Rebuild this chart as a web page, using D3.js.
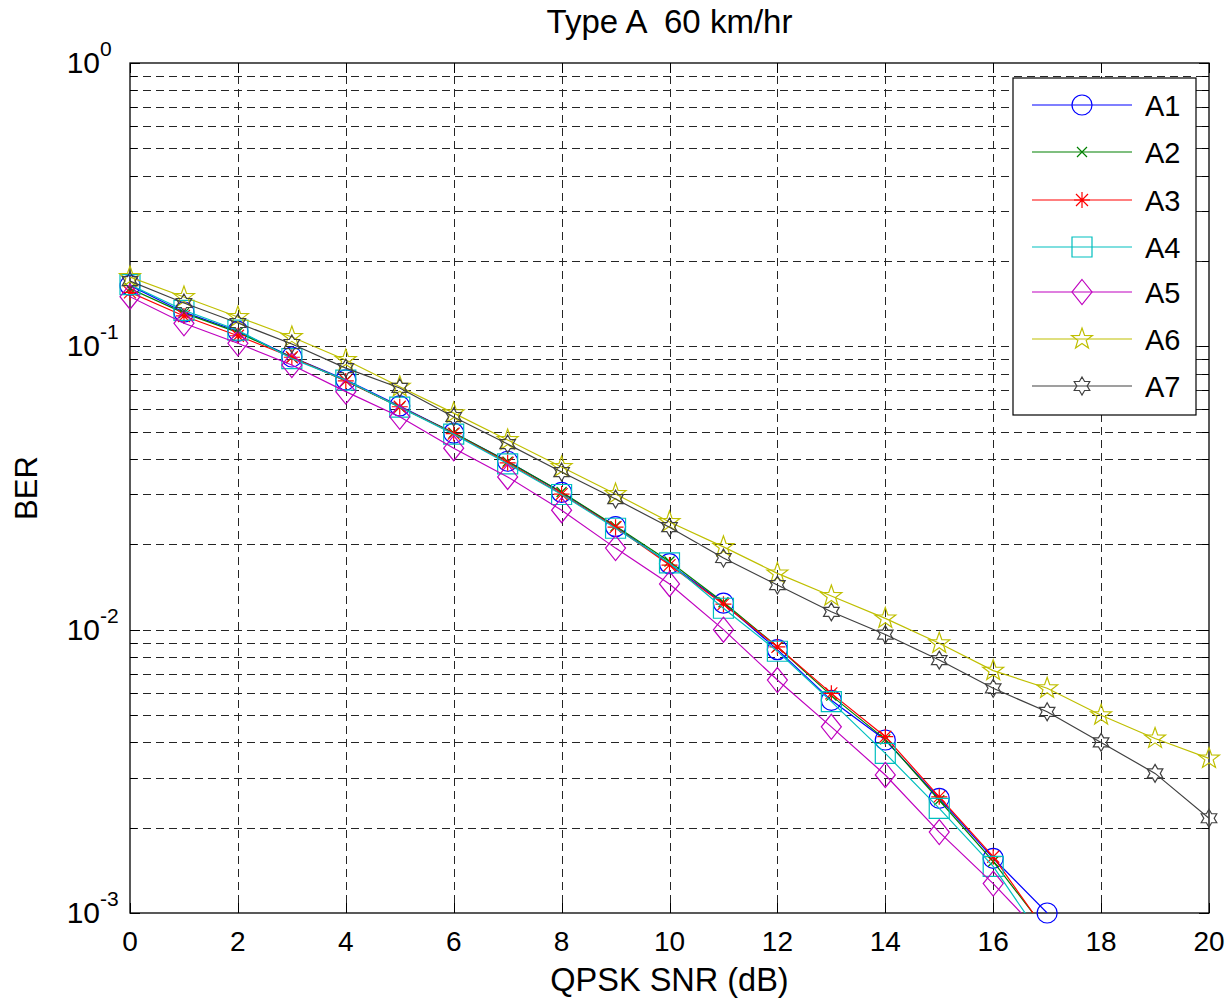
<!DOCTYPE html>
<html>
<head>
<meta charset="utf-8">
<script src="https://cdn.jsdelivr.net/npm/d3@7"></script>
<style>
  body { margin: 0; background: #fff; }
  svg text { font-family: "Liberation Sans", Arial, sans-serif; fill: #000; }
</style>
</head>
<body>
<div id="chart"></div>
<script>
// SNR points (dB)
const snrShort = [0, 1, 2, 3, 4, 5, 6, 7, 8, 9, 10, 11, 12, 13, 14, 15, 16, 17];
const snrLong = [0, 1, 2, 3, 4, 5, 6, 7, 8, 9, 10, 11, 12, 13, 14, 15, 16, 17, 18, 19, 20];

// BER values
const berA1 = [0.164, 0.132, 0.113, 0.0917, 0.0762, 0.0616, 0.0494, 0.0393, 0.0305, 0.0231, 0.0171, 0.0124, 0.0085, 0.00563, 0.00408, 0.00254, 0.00156, 0.00100];
const berA2 = [0.160, 0.131, 0.112, 0.0915, 0.0755, 0.0610, 0.0495, 0.0392, 0.0306, 0.0232, 0.0174, 0.0125, 0.0087, 0.00585, 0.00410, 0.00250, 0.00152, 0.00086];
const berA3 = [0.155, 0.128, 0.109, 0.0915, 0.0755, 0.0612, 0.0492, 0.0388, 0.0301, 0.0230, 0.0169, 0.0123, 0.0087, 0.00596, 0.00419, 0.00257, 0.00158, 0.00085];
const berA4 = [0.165, 0.134, 0.114, 0.0905, 0.0760, 0.0610, 0.0490, 0.0385, 0.0300, 0.0228, 0.0172, 0.0119, 0.00839, 0.00557, 0.00366, 0.00234, 0.00146, 0.00077];
const berA5 = [0.1497, 0.1206, 0.1025, 0.0859, 0.0692, 0.0564, 0.0437, 0.0346, 0.0264, 0.0194, 0.0145, 0.0100, 0.00664, 0.00454, 0.00307, 0.00193, 0.00127, 0.00080];
const berA6 = [0.1756, 0.1493, 0.1269, 0.1079, 0.0895, 0.0720, 0.0581, 0.0467, 0.0375, 0.0301, 0.0240, 0.0196, 0.0158, 0.01314, 0.01096, 0.00895, 0.00717, 0.00621, 0.00499, 0.00413, 0.00351];
const berA7 = [0.170, 0.1422, 0.1209, 0.1019, 0.0838, 0.0713, 0.0563, 0.0452, 0.0360, 0.0289, 0.0230, 0.0179, 0.01437, 0.01156, 0.00961, 0.00781, 0.00621, 0.00513, 0.00400, 0.00311, 0.00216];

const seriesNames = ["A1", "A2", "A3", "A4", "A5", "A6", "A7"];
const xTicks = [0, 2, 4, 6, 8, 10, 12, 14, 16, 18, 20];
const yDecades = [1e-3, 1e-2, 1e-1, 1];
const yExponents = ["-3", "-2", "-1", "0"];

const series = [
    { name: seriesNames[0], x: snrShort, y: berA1, color: "#0000ff", marker: "circle" },
    { name: seriesNames[1], x: snrShort, y: berA2, color: "#008000", marker: "x" },
    { name: seriesNames[2], x: snrShort, y: berA3, color: "#ff0000", marker: "star" },
    { name: seriesNames[3], x: snrShort, y: berA4, color: "#00bfbf", marker: "square" },
    { name: seriesNames[4], x: snrShort, y: berA5, color: "#bf00bf", marker: "diamond" },
    { name: seriesNames[5], x: snrLong, y: berA6, color: "#bfbf00", marker: "pentagram" },
    { name: seriesNames[6], x: snrLong, y: berA7, color: "#404040", marker: "hexagram" }
];

const width = 1231, height = 999;
const plotLeft = 130, plotRight = 1209, plotTop = 63, plotBottom = 913;

const svg = d3.select("#chart").append("svg")
    .attr("width", width)
    .attr("height", height);

const x = d3.scaleLinear().domain([0, 20]).range([plotLeft, plotRight]);
const y = d3.scaleLog().domain([1e-3, 1]).range([plotBottom, plotTop]);

// minor values for log grid
const yMinor = [];
yDecades.slice(0, 3).forEach(d => {
    for (let k = 2; k <= 9; k++) yMinor.push(d * k);
});

// grid
const grid = svg.append("g")
    .attr("stroke", "#000")
    .attr("stroke-width", 1)
    .attr("stroke-dasharray", "8,5")
    .attr("opacity", 0.85);

grid.selectAll(".gx")
    .data(xTicks.filter(d => d > 0 && d < 20))
    .join("line")
    .attr("x1", d => Math.round(x(d)) + 0.5)
    .attr("x2", d => Math.round(x(d)) + 0.5)
    .attr("y1", plotTop)
    .attr("y2", plotBottom);

grid.selectAll(".gy")
    .data(yMinor.concat([1e-2, 1e-1]))
    .join("line")
    .attr("x1", plotLeft)
    .attr("x2", plotRight)
    .attr("y1", d => Math.round(y(d)) + 0.5)
    .attr("y2", d => Math.round(y(d)) + 0.5);

// box
svg.append("rect")
    .attr("x", plotLeft)
    .attr("y", plotTop)
    .attr("width", plotRight - plotLeft)
    .attr("height", plotBottom - plotTop)
    .attr("fill", "none")
    .attr("stroke", "#000")
    .attr("stroke-width", 1.3);

// ticks (inward, both sides)
const ticks = svg.append("g").attr("stroke", "#000").attr("stroke-width", 1);
xTicks.forEach(t => {
    const px = Math.round(x(t)) + 0.5;
    ticks.append("line").attr("x1", px).attr("x2", px).attr("y1", plotBottom).attr("y2", plotBottom - 10);
    ticks.append("line").attr("x1", px).attr("x2", px).attr("y1", plotTop).attr("y2", plotTop + 10);
});
yDecades.forEach(t => {
    const py = Math.round(y(t)) + 0.5;
    ticks.append("line").attr("x1", plotLeft).attr("x2", plotLeft + 10).attr("y1", py).attr("y2", py);
    ticks.append("line").attr("x1", plotRight).attr("x2", plotRight - 10).attr("y1", py).attr("y2", py);
});
yMinor.forEach(t => {
    const py = Math.round(y(t)) + 0.5;
    ticks.append("line").attr("x1", plotLeft).attr("x2", plotLeft + 7).attr("y1", py).attr("y2", py);
    ticks.append("line").attr("x1", plotRight).attr("x2", plotRight - 7).attr("y1", py).attr("y2", py);
});

// tick labels
svg.selectAll(".xl")
    .data(xTicks)
    .join("text")
    .attr("x", d => x(d))
    .attr("y", 951)
    .attr("text-anchor", "middle")
    .attr("font-size", 28)
    .text(d => d);

yDecades.forEach((d, i) => {
    const py = y(d);
    svg.append("text")
        .attr("x", 100)
        .attr("y", py + 10)
        .attr("text-anchor", "end")
        .attr("font-size", 30)
        .text("10");
    svg.append("text")
        .attr("x", 100)
        .attr("y", py - 7)
        .attr("text-anchor", "start")
        .attr("font-size", 21)
        .text(yExponents[i]);
});

// title and axis labels
svg.append("text")
    .attr("x", (plotLeft + plotRight) / 2)
    .attr("y", 33)
    .attr("text-anchor", "middle")
    .attr("font-size", 33)
    .attr("xml:space", "preserve")
    .text("Type A  60 km/hr");

svg.append("text")
    .attr("x", (plotLeft + plotRight) / 2)
    .attr("y", 991)
    .attr("text-anchor", "middle")
    .attr("font-size", 32.5)
    .text("QPSK SNR (dB)");

svg.append("text")
    .attr("transform", `translate(37,${(plotTop + plotBottom) / 2}) rotate(-90)`)
    .attr("text-anchor", "middle")
    .attr("font-size", 31)
    .text("BER");

// marker shapes
function starPath(points, outer, inner) {
    const pts = [];
    for (let i = 0; i < points * 2; i++) {
        const r = i % 2 === 0 ? outer : inner;
        const a = -Math.PI / 2 + i * Math.PI / points;
        pts.push([r * Math.cos(a), r * Math.sin(a)]);
    }
    return "M" + pts.map(p => p.join(",")).join("L") + "Z";
}

function markerPath(type) {
    switch (type) {
        case "circle":
            return "M10,0A10,10 0 1,1 -10,0A10,10 0 1,1 10,0Z";
        case "x":
            return "M-5,-5L5,5M-5,5L5,-5";
        case "star":
            return "M0,-8L0,8M-8,0L8,0M-6,-6L6,6M-6,6L6,-6";
        case "square":
            return "M-10,-10H10V10H-10Z";
        case "diamond":
            return "M0,-12.5L10,0L0,12.5L-10,0Z";
        case "pentagram":
            return starPath(5, 11, 4.4);
        case "hexagram":
            return starPath(6, 9, 5.2);
    }
}

// clip for lines
svg.append("clipPath").attr("id", "plotclip")
    .append("rect")
    .attr("x", plotLeft).attr("y", plotTop)
    .attr("width", plotRight - plotLeft).attr("height", plotBottom - plotTop);

const line = d3.line()
    .x(d => x(d[0]))
    .y(d => y(d[1]));

series.forEach(s => {
    const pts = s.x.map((v, i) => [v, s.y[i]]);
    svg.append("path")
        .datum(pts)
        .attr("d", line)
        .attr("fill", "none")
        .attr("stroke", s.color)
        .attr("stroke-width", 1.2)
        .attr("clip-path", "url(#plotclip)");

    // markers only where the point is inside the axes
    svg.append("g").selectAll("path")
        .data(pts.filter(p => p[1] >= 1e-3 * 0.999))
        .join("path")
        .attr("transform", d => `translate(${x(d[0])},${y(d[1])})`)
        .attr("d", markerPath(s.marker))
        .attr("fill", "none")
        .attr("stroke", s.color)
        .attr("stroke-width", 1.2);
});

// legend
const legend = svg.append("g");
legend.append("rect")
    .attr("x", 1013)
    .attr("y", 78)
    .attr("width", 183)
    .attr("height", 337)
    .attr("fill", "#fff")
    .attr("stroke", "#000")
    .attr("stroke-width", 1.2);

const legendRows = [105, 152, 200, 247, 292, 339, 386];
series.forEach((s, i) => {
    const ly = legendRows[i];
    legend.append("line")
        .attr("x1", 1032).attr("x2", 1132)
        .attr("y1", ly).attr("y2", ly)
        .attr("stroke", s.color)
        .attr("stroke-width", 1.2);
    legend.append("path")
        .attr("transform", `translate(1082,${ly})`)
        .attr("d", markerPath(s.marker))
        .attr("fill", "none")
        .attr("stroke", s.color)
        .attr("stroke-width", 1.2);
    legend.append("text")
        .attr("x", 1145)
        .attr("y", ly + 11)
        .attr("font-size", 29)
        .text(s.name);
});
</script>
</body>
</html>
